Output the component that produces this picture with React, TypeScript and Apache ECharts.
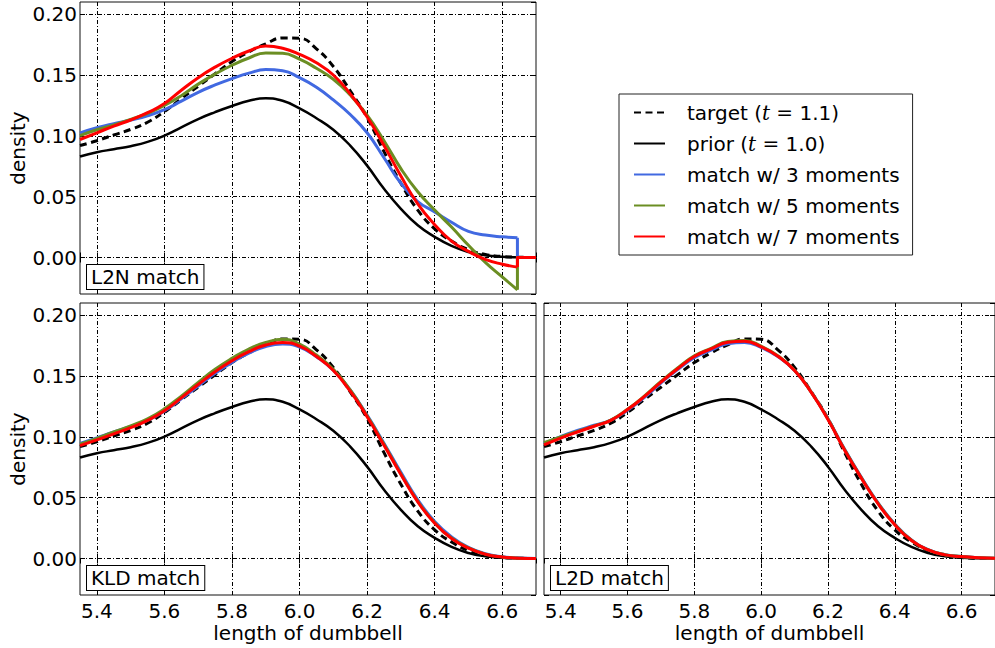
import React, { useEffect, useRef } from 'react';
import * as echarts from 'echarts';

// ---------------- data ----------------
const X = [5.35, 5.40, 5.45, 5.50, 5.55, 5.60, 5.65, 5.70, 5.75, 5.80, 5.85, 5.90, 5.95, 6.00, 6.05, 6.10, 6.15, 6.20, 6.25, 6.30, 6.35, 6.40, 6.45, 6.50, 6.55, 6.60, 6.65, 6.70];

const TARGET = [0.092, 0.096, 0.1007, 0.1053, 0.1112, 0.120, 0.1306, 0.1408, 0.151, 0.161, 0.169, 0.1756, 0.1805, 0.1802, 0.1715, 0.157, 0.137, 0.115, 0.087, 0.061, 0.039, 0.0235, 0.0135, 0.0065, 0.0025, 0.0008, 0.0002, 0.0];
const PRIOR = [0.083, 0.0865, 0.089, 0.0915, 0.095, 0.1002, 0.107, 0.1138, 0.1195, 0.1245, 0.1288, 0.1308, 0.1288, 0.1225, 0.1145, 0.105, 0.092, 0.0755, 0.0565, 0.040, 0.0265, 0.017, 0.0095, 0.0045, 0.0018, 0.0006, 0.0002, 0.0];

// L2N match (top-left): curves stop at 6.645 and jump to zero
const X_L2N = [5.35, 5.40, 5.45, 5.50, 5.55, 5.60, 5.65, 5.70, 5.75, 5.80, 5.85, 5.90, 5.95, 6.00, 6.05, 6.10, 6.15, 6.20, 6.25, 6.30, 6.35, 6.40, 6.45, 6.50, 6.55, 6.60, 6.645];
const L2N_M3 = [0.1024, 0.1066, 0.110, 0.113, 0.1165, 0.1215, 0.1285, 0.1358, 0.1418, 0.147, 0.1515, 0.1545, 0.1535, 0.1478, 0.140, 0.1295, 0.1175, 0.1025, 0.082, 0.061, 0.046, 0.0375, 0.029, 0.0215, 0.0185, 0.017, 0.0162];
const L2N_M5 = [0.1002, 0.105, 0.109, 0.1135, 0.1185, 0.125, 0.133, 0.1425, 0.1508, 0.158, 0.164, 0.168, 0.1678, 0.163, 0.1555, 0.1465, 0.1335, 0.117, 0.096, 0.073, 0.054, 0.039, 0.025, 0.010, -0.004, -0.016, -0.0266];
const L2N_M7 = [0.097, 0.1025, 0.108, 0.113, 0.119, 0.1265, 0.1375, 0.1478, 0.1565, 0.1637, 0.1697, 0.1738, 0.172, 0.167, 0.160, 0.150, 0.1345, 0.1155, 0.092, 0.067, 0.044, 0.027, 0.0135, 0.005, -0.0015, -0.0055, -0.0079];
const X_L2N_TAIL = [6.645, 6.645, 6.70];
const L2N_M3_TAIL = [0.0162, 0.0, 0.0];
const L2N_M5_TAIL = [-0.0266, 0.0, 0.0];
const L2N_M7_TAIL = [-0.0079, 0.0, 0.0];

// KLD match (bottom-left)
const KLD_M3 = [0.0945, 0.0992, 0.104, 0.1085, 0.1138, 0.121, 0.1312, 0.1418, 0.1522, 0.1612, 0.1688, 0.1742, 0.1762, 0.1738, 0.1658, 0.1548, 0.1385, 0.1178, 0.0948, 0.0708, 0.0482, 0.0305, 0.0178, 0.0092, 0.0039, 0.0014, 0.0004, 0.0];
const KLD_M5 = [0.094, 0.0988, 0.104, 0.109, 0.1148, 0.123, 0.1335, 0.1448, 0.1555, 0.1645, 0.1722, 0.1775, 0.1802, 0.1762, 0.1672, 0.1555, 0.1385, 0.1172, 0.0938, 0.0695, 0.047, 0.0293, 0.0168, 0.0087, 0.0036, 0.0013, 0.0003, 0.0];
const KLD_M7 = [0.0928, 0.0975, 0.1025, 0.1075, 0.1135, 0.1215, 0.132, 0.143, 0.1535, 0.1625, 0.170, 0.1755, 0.1775, 0.1745, 0.166, 0.1545, 0.1375, 0.1165, 0.093, 0.069, 0.0465, 0.029, 0.0165, 0.0085, 0.0035, 0.0012, 0.0003, 0.0];

// L2D match (bottom-right)
const L2D_M3 = [0.0945, 0.1002, 0.1052, 0.1095, 0.1138, 0.1218, 0.1322, 0.1442, 0.1552, 0.165, 0.1712, 0.1765, 0.1776, 0.1735, 0.166, 0.1545, 0.1368, 0.1148, 0.0898, 0.0668, 0.0458, 0.0284, 0.0153, 0.0073, 0.0032, 0.0017, 0.0006, 0.0002];
const L2D_M5 = [0.0952, 0.100, 0.1045, 0.109, 0.1138, 0.1226, 0.1334, 0.1455, 0.1566, 0.1666, 0.1728, 0.1783, 0.1792, 0.1745, 0.1666, 0.1548, 0.1368, 0.1146, 0.0893, 0.0663, 0.0453, 0.028, 0.015, 0.0071, 0.0031, 0.0016, 0.0006, 0.0002];
const L2D_M7 = [0.0934, 0.099, 0.104, 0.1087, 0.1136, 0.1224, 0.133, 0.145, 0.156, 0.166, 0.1722, 0.1777, 0.1786, 0.174, 0.1662, 0.1545, 0.1365, 0.1142, 0.089, 0.066, 0.045, 0.0277, 0.0148, 0.007, 0.003, 0.0016, 0.0006, 0.0002];

const SERIES_NAMES = ['target (t = 1.1)', 'prior (t = 1.0)', 'match w/ 3 moments', 'match w/ 5 moments', 'match w/ 7 moments'];
const LEGEND_TEXT: Record<string, string> = {
  'target (t = 1.1)': 'target ({i|t}{s| =} 1.1)',
  'prior (t = 1.0)': 'prior ({i|t}{s| =} 1.0)',
  'match w/ 3 moments': 'match w/ 3 moments',
  'match w/ 5 moments': 'match w/ 5 moments',
  'match w/ 7 moments': 'match w/ 7 moments',
};
const PANEL_LABELS = ['L2N match', 'KLD match', 'L2D match'];
const X_RANGE = [5.35, 6.70];
const Y_RANGE = [-0.03, 0.21];
const X_NAME = 'length of dumbbell';
const Y_NAME = 'density';

// ---------------- styling ----------------
const FONT = '"DejaVu Sans", "Bitstream Vera Sans", sans-serif';
const FS = 20;
const COLORS = { target: '#000000', prior: '#000000', m3: '#4169e1', m5: '#6b8e23', m7: '#ff0000' };
const GRID_LINE = { color: '#000', width: 1, type: [4, 2, 1, 2] as number[] };

const GRIDS = [
  { left: 80, top: 2, width: 456, height: 292 },
  { left: 80, top: 303, width: 456, height: 292 },
  { left: 544, top: 303, width: 456, height: 292 },
];
const LABEL_POS = [
  { x: 87, y: 265 },
  { x: 87, y: 566 },
  { x: 551, y: 566 },
];

function pairs(xs: number[], ys: number[]) {
  return xs.map((x, i) => [x, ys[i]]);
}

function xAxesFor(g: number, showLabels: boolean) {
  const common = {
    type: 'value',
    gridIndex: g,
    min: X_RANGE[0],
    max: X_RANGE[1],
    splitNumber: 7,
    minInterval: 0.2,
    maxInterval: 0.2,
    axisLine: { show: false },
    axisTick: { show: true, inside: true, length: 5, lineStyle: { color: '#000', width: 1 } },
  };
  return [
    {
      ...common,
      position: 'bottom',
      axisLabel: {
        show: showLabels,
        showMinLabel: false,
        showMaxLabel: false,
        margin: 7,
        lineHeight: 18,
        color: '#000',
        fontFamily: FONT,
        fontSize: FS,
        formatter: (v: number) => v.toFixed(1),
      },
      splitLine: { show: true, showMinLine: false, showMaxLine: false, lineStyle: GRID_LINE },
      name: showLabels ? X_NAME : '',
      nameLocation: 'middle',
      nameGap: 29,
      nameTextStyle: { color: '#000', fontFamily: FONT, fontSize: FS, lineHeight: 18 },
    },
    {
      ...common,
      position: 'top',
      axisLabel: { show: false },
      splitLine: { show: false },
    },
  ];
}

function yAxesFor(g: number, showLabels: boolean) {
  const common = {
    type: 'value',
    gridIndex: g,
    min: Y_RANGE[0],
    max: Y_RANGE[1],
    splitNumber: 5,
    minInterval: 0.05,
    maxInterval: 0.05,
    axisLine: { show: false },
    axisTick: { show: true, inside: true, length: 5, lineStyle: { color: '#000', width: 1 } },
  };
  return [
    {
      ...common,
      position: 'left',
      axisLabel: {
        show: showLabels,
        showMinLabel: false,
        showMaxLabel: false,
        margin: 3,
        color: '#000',
        fontFamily: FONT,
        fontSize: FS,
        formatter: (v: number) => v.toFixed(2),
      },
      splitLine: { show: true, showMinLine: false, showMaxLine: false, lineStyle: GRID_LINE },
      name: showLabels ? Y_NAME : '',
      nameLocation: 'middle',
      nameRotate: 90,
      nameGap: 52,
      nameTextStyle: { color: '#000', fontFamily: FONT, fontSize: FS },
    },
    {
      ...common,
      position: 'right',
      axisLabel: { show: false },
      splitLine: { show: false },
    },
  ];
}

function lineSeries(name: string, data: number[][], g: number, color: string, width: number, dash: any, z: number, smooth: boolean | number) {
  return {
    type: 'line',
    name,
    data,
    xAxisIndex: g * 2,
    yAxisIndex: g * 2,
    symbol: 'none',
    showSymbol: false,
    smooth,
    clip: true,
    silent: true,
    z,
    lineStyle: { color, width, type: dash, cap: 'butt', join: 'round' },
    itemStyle: { color },
    emphasis: { disabled: true },
  };
}

function panelSeries(g: number, xs: number[], m3: number[], m5: number[], m7: number[]) {
  return [
    lineSeries(SERIES_NAMES[0], pairs(X, TARGET), g, COLORS.target, 3, [7, 4.5], 2, 0.5),
    lineSeries(SERIES_NAMES[1], pairs(X, PRIOR), g, COLORS.prior, 2.5, 'solid', 3, 0.5),
    lineSeries(SERIES_NAMES[2], pairs(xs, m3), g, COLORS.m3, 3, 'solid', 4, 0.5),
    lineSeries(SERIES_NAMES[3], pairs(xs, m5), g, COLORS.m5, 3, 'solid', 5, 0.5),
    lineSeries(SERIES_NAMES[4], pairs(xs, m7), g, COLORS.m7, 3, 'solid', 6, 0.5),
  ];
}

export default function App() {
  const ref = useRef<HTMLDivElement>(null);

  useEffect(() => {
    if (!ref.current) return;
    const chart = echarts.init(ref.current, null, { renderer: 'svg' });

    const series: any[] = [
      ...panelSeries(0, X_L2N, L2N_M3, L2N_M5, L2N_M7),
      lineSeries(SERIES_NAMES[2], pairs(X_L2N_TAIL, L2N_M3_TAIL), 0, COLORS.m3, 3, 'solid', 4, false),
      lineSeries(SERIES_NAMES[3], pairs(X_L2N_TAIL, L2N_M5_TAIL), 0, COLORS.m5, 3, 'solid', 5, false),
      lineSeries(SERIES_NAMES[4], pairs(X_L2N_TAIL, L2N_M7_TAIL), 0, COLORS.m7, 3, 'solid', 6, false),
      ...panelSeries(1, X, KLD_M3, KLD_M5, KLD_M7),
      ...panelSeries(2, X, L2D_M3, L2D_M5, L2D_M7),
    ];

    const option: any = {
      animation: false,
      backgroundColor: '#ffffff',
      textStyle: { fontFamily: FONT },
      grid: GRIDS.map((g) => ({
        ...g,
        show: true,
        borderColor: '#111',
        borderWidth: 1,
        backgroundColor: 'transparent',
        containLabel: false,
      })),
      xAxis: [...xAxesFor(0, false), ...xAxesFor(1, true), ...xAxesFor(2, true)],
      yAxis: [...yAxesFor(0, true), ...yAxesFor(1, true), ...yAxesFor(2, false)],
      legend: {
        data: SERIES_NAMES,
        orient: 'vertical',
        left: 619,
        top: 94,
        padding: [8, 13, 8, 14],
        itemGap: 10,
        itemWidth: 31,
        itemHeight: 14,
        borderColor: '#222',
        borderWidth: 1,
        backgroundColor: '#fff',
        selectedMode: false,
        itemStyle: { opacity: 0 },
        formatter: (n: string) => LEGEND_TEXT[n] ?? n,
        textStyle: {
          fontFamily: FONT,
          fontSize: FS,
          color: '#000',
          lineHeight: 21,
          padding: [0, 0, 0, 17],
          rich: {
            i: { fontFamily: '"DejaVu Serif", serif', fontStyle: 'italic', fontSize: FS, color: '#000', lineHeight: 21 },
            s: { fontFamily: '"DejaVu Serif", serif', fontSize: FS, color: '#000', lineHeight: 21 },
          },
        },
      },
      graphic: PANEL_LABELS.map((t, i) => ({
        type: 'text',
        x: LABEL_POS[i].x,
        y: LABEL_POS[i].y,
        z: 100,
        silent: true,
        style: {
          text: t,
          font: `${FS}px ${FONT}`,
          fill: '#000',
          backgroundColor: '#fff',
          borderColor: '#000',
          borderWidth: 1,
          padding: [1, 4, 1, 4],
          lineHeight: 22,
          align: 'left',
          verticalAlign: 'top',
        },
      })),
      series,
    };

    chart.setOption(option);
    return () => {
      chart.dispose();
    };
  }, []);

  return (
    <div
      ref={ref}
      style={{ position: 'fixed', left: 0, top: 0, width: 995, height: 648, background: '#fff' }}
    />
  );
}
